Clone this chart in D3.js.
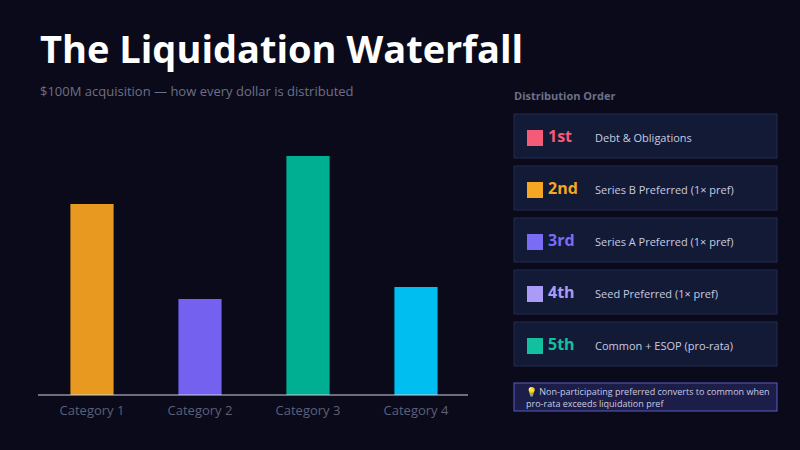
<!DOCTYPE html><html><head><meta charset="utf-8"><script src="https://cdn.jsdelivr.net/npm/d3@7"></script>
<style>body{margin:0;background:#0a0a1a;}svg{display:block}</style></head><body><svg width="800" height="450"></svg>
<script>
const categories=["Category 1","Category 2","Category 3","Category 4"];
const values=[191,96,239,108];
const barColors=["#E8991F","#7561F0","#00AE92","#00BEF0"];
const ranks=["1st","2nd","3rd","4th","5th"];
const tiers=["Debt & Obligations","Series B Preferred (1× pref)","Series A Preferred (1× pref)","Seed Preferred (1× pref)","Common + ESOP (pro-rata)"];
const tierColors=["#F45B78","#F5A623","#7B6CF6","#A99BF7","#12C0A0"];
const svg=d3.select("svg");
svg.append("rect").attr("width",800).attr("height",450).attr("fill","#0a0a1a");
const F="'Open Sans',sans-serif";
svg.append("text").attr("x",40).attr("y",63).attr("fill","#fff").attr("font-family",F).attr("font-weight",700).attr("font-size",38).text("The Liquidation Waterfall");
svg.append("text").attr("x",40).attr("y",96).attr("fill","#6c7088").attr("font-family",F).attr("font-size",13).text("$100M acquisition — how every dollar is distributed");
const x=d3.scaleBand().domain(categories).range([38,470]).paddingInner(0.6).paddingOuter(0.3);
const y=d3.scaleLinear().domain([0,250]).range([395,145]);
svg.selectAll(".bar").data(values).join("rect").attr("x",(d,i)=>x(categories[i])).attr("width",x.bandwidth()).attr("y",d=>y(d)).attr("height",d=>y(0)-y(d)).attr("fill",(d,i)=>barColors[i]);
const ax=svg.append("g").attr("transform","translate(0,395)").call(d3.axisBottom(x).tickSize(0).tickPadding(11));
ax.select(".domain").attr("stroke","#cfd2e0").attr("d","M38,0H468");
ax.selectAll("text").attr("fill","#5c6078").attr("font-family",F).attr("font-size",13);
svg.append("text").attr("x",514).attr("y",100).attr("fill","#6c7088").attr("font-family",F).attr("font-weight",700).attr("font-size",11).text("Distribution Order");
const g=svg.selectAll(".tier").data(ranks).join("g").attr("transform",(d,i)=>`translate(514,${114+i*52})`);
g.append("rect").attr("width",263).attr("height",44).attr("fill","#131a36").attr("stroke","#232b52");
g.append("rect").attr("x",13).attr("y",16).attr("width",16).attr("height",16).attr("fill",(d,i)=>tierColors[i]);
g.append("text").attr("x",34).attr("y",28).attr("fill",(d,i)=>tierColors[i]).attr("font-family",F).attr("font-weight",700).attr("font-size",16).text(d=>d);
g.append("text").attr("x",81).attr("y",28).attr("fill","#c8cbe0").attr("font-family",F).attr("font-size",11).text((d,i)=>tiers[i]);
svg.append("rect").attr("x",514).attr("y",383).attr("width",263).attr("height",28).attr("fill","#1c1d48").attr("stroke","#5b5bc4");
svg.append("text").attr("x",526).attr("y",395).attr("fill","#c8cbe0").attr("font-family",F).attr("font-size",9).text("💡 Non-participating preferred converts to common when");
svg.append("text").attr("x",526).attr("y",407).attr("fill","#c8cbe0").attr("font-family",F).attr("font-size",9).text("pro-rata exceeds liquidation pref");
</script></body></html>
